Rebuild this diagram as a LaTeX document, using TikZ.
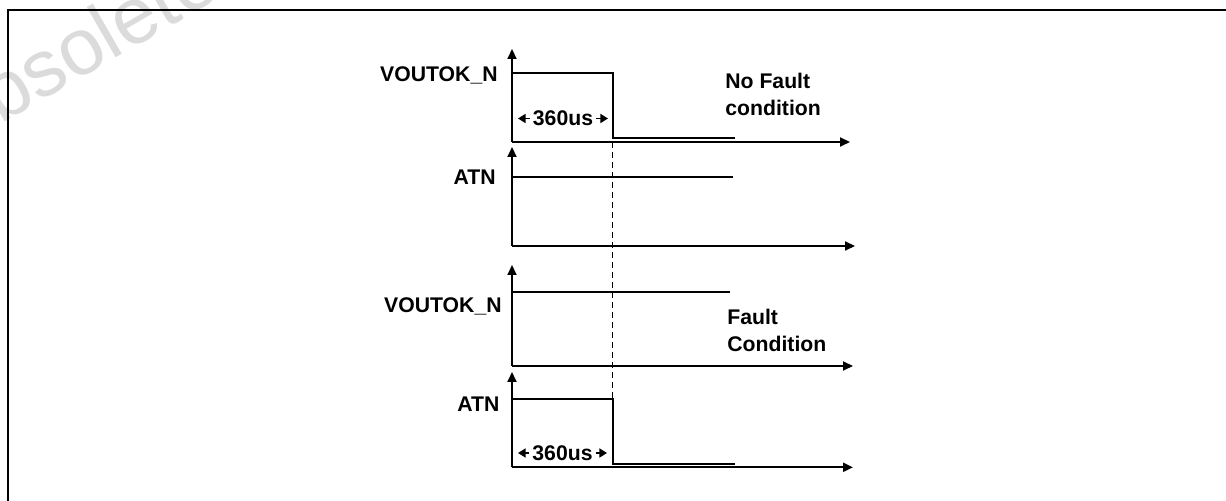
\documentclass[tikz,border=0pt]{standalone}
\usepackage{fontspec}
\setmainfont{Liberation Sans}
\usetikzlibrary{arrows.meta}
\begin{document}
\begin{tikzpicture}[x=0.5pt,y=-0.5pt,
  lbl/.style={font=\bfseries\fontsize{10.6}{12}\selectfont, inner sep=0pt},
  axis/.style={line width=1pt, -{Triangle[length=5pt,width=4.5pt]}},
  sig/.style={line width=1pt},
  dimarrow/.style={line width=0.8pt, -{Triangle[length=3.8pt,width=4.5pt]}},
  guide/.style={line width=0.85pt, dash pattern=on 3pt off 2pt},
  frame/.style={line width=1.4pt},
]
\useasboundingbox (0,0) rectangle (1226,501);
% watermark
\node[rotate=30, anchor=base west, inner sep=0pt, text=black!14,
      font=\fontsize{40}{40}\selectfont] (wm) at (-54,156) {Obsolete};
% frame
\coordinate (fbl) at (8,530);
\coordinate (ftl) at (8,10);
\coordinate (ftr) at (1240,10);
\draw[frame] (fbl) -- (ftl) -- (ftr);

% ---------- panel 1 ----------
\coordinate (o1) at (512,142);
\coordinate (y1) at (512,49);
\coordinate (x1) at (850,142);
\draw[axis] (o1) -- (y1);
\draw[axis] (o1) -- (x1);
\coordinate (s1a) at (512,73);
\coordinate (s1b) at (612.5,73);
\coordinate (s1c) at (612.5,138.3);
\coordinate (s1d) at (735,138.3);
\draw[sig] (s1a) -- (s1b) -- (s1c) -- (s1d);
\node[lbl, anchor=base east] (v1) at (498,82) {VOUTOK\_N};
\node[lbl, anchor=base west] (nf1) at (725,89) {No Fault};
\node[lbl, anchor=base west] (nf2) at (725,116) {condition};
\node[lbl, anchor=base, inner xsep=1.5pt] (t1) at (563,126) {360us};
\coordinate (t1l) at (518,118.5);
\coordinate (t1r) at (608,118.5);
\draw[dimarrow] (t1.west |- t1l) -- (t1l);
\draw[dimarrow] (t1.east |- t1r) -- (t1r);

% ---------- panel 2 ----------
\coordinate (o2) at (512,246);
\coordinate (y2) at (512,147);
\coordinate (x2) at (855,246);
\draw[axis] (o2) -- (y2);
\draw[axis] (o2) -- (x2);
\coordinate (s2a) at (512,177);
\coordinate (s2b) at (733,177);
\draw[sig] (s2a) -- (s2b);
\node[lbl, anchor=base east] (a2) at (496,185) {ATN};

% ---------- panel 3 ----------
\coordinate (o3) at (512,366);
\coordinate (y3) at (512,265);
\coordinate (x3) at (853,366);
\draw[axis] (o3) -- (y3);
\draw[axis] (o3) -- (x3);
\coordinate (s3a) at (512,292);
\coordinate (s3b) at (730,292);
\draw[sig] (s3a) -- (s3b);
\node[lbl, anchor=base east] (v3) at (502,313) {VOUTOK\_N};
\node[lbl, anchor=base west] (f1) at (727,325) {Fault};
\node[lbl, anchor=base west] (f2) at (727,352) {Condition};

% ---------- panel 4 ----------
\coordinate (o4) at (512,467.3);
\coordinate (y4) at (512,372);
\coordinate (x4) at (853,467.3);
\draw[axis] (o4) -- (y4);
\draw[axis] (o4) -- (x4);
\coordinate (s4a) at (512,399.3);
\coordinate (s4b) at (612.5,399.3);
\coordinate (s4c) at (612.5,464);
\coordinate (s4d) at (735,464);
\draw[sig] (s4a) -- (s4b) -- (s4c) -- (s4d);
\node[lbl, anchor=base west] (a4) at (457,412) {ATN};
\node[lbl, anchor=base, inner xsep=1.5pt] (t4) at (562.5,461) {360us};
\coordinate (t4l) at (518,453);
\coordinate (t4r) at (607,453);
\draw[dimarrow] (t4.west |- t4l) -- (t4l);
\draw[dimarrow] (t4.east |- t4r) -- (t4r);

% dashed guide
\coordinate (d1) at (612.5,142);
\coordinate (d2) at (612.5,399.3);
\draw[guide] (d1) -- (d2);
\end{tikzpicture}
\end{document}
